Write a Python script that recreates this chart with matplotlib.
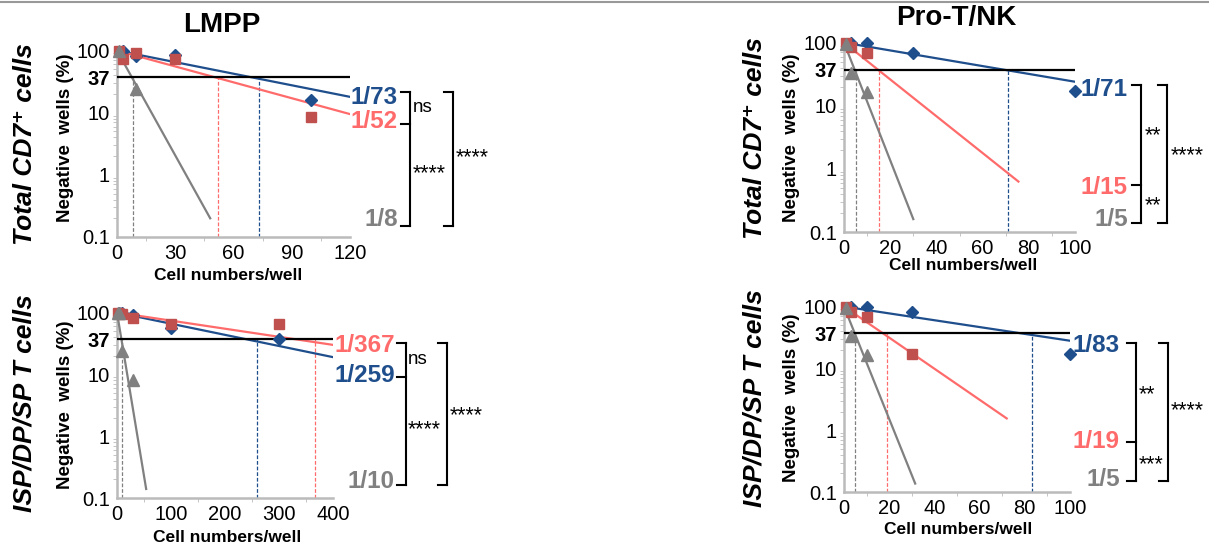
import numpy as np
import matplotlib
matplotlib.use("Agg")
import matplotlib.pyplot as plt
from matplotlib.lines import Line2D
from matplotlib.ticker import FixedLocator, LogLocator, NullFormatter

plt.rcParams['font.family'] = ['Liberation Sans', 'DejaVu Sans']

BLUE = '#1F4E8C'
RED_LINE = '#FF6B6B'
RED_MARK = '#C0504D'
GRAY = '#808080'
AXIS_GRAY = '#BBBBBB'

# ---- data: LMPP, total CD7+ ----
lmpp_cd7_blue_x = [3, 10, 30, 100]
lmpp_cd7_blue_y = [100, 82, 85, 16]
lmpp_cd7_red_x = [1, 3, 10, 30, 100]
lmpp_cd7_red_y = [100, 73, 92, 74, 8.5]
lmpp_cd7_gray_x = [1, 10]
lmpp_cd7_gray_y = [100, 24]
lmpp_cd7_fit_end = [(120, 18), (120, 9.5), (48, 0.2)]   # blue, red, gray
lmpp_cd7_freq = [73, 52, 8]

# ---- data: LMPP, ISP/DP/SP T ----
lmpp_t_blue_x = [3, 10, 30, 100, 300]
lmpp_t_blue_y = [100, 100, 92, 57, 38]
lmpp_t_red_x = [1, 10, 30, 100, 300]
lmpp_t_red_y = [100, 95, 82, 66, 66]
lmpp_t_gray_x = [1, 3, 10, 30]
lmpp_t_gray_y = [100, 100, 24, 8]
lmpp_t_fit_end = [(400, 19), (400, 30), (54, 0.14)]
lmpp_t_freq = [259, 367, 10]

# ---- data: Pro-T/NK, total CD7+ ----
pro_cd7_blue_x = [3, 10, 30, 100]
pro_cd7_blue_y = [100, 100, 68, 17]
pro_cd7_red_x = [1, 3, 10]
pro_cd7_red_y = [100, 85, 69]
pro_cd7_gray_x = [1, 3, 10]
pro_cd7_gray_y = [95, 33, 16.5]
pro_cd7_fit_end = [(100, 24), (75.5, 0.63), (30, 0.16)]
pro_cd7_freq = [71, 15, 5]

# ---- data: Pro-T/NK, ISP/DP/SP T ----
pro_t_blue_x = [3, 10, 30, 100]
pro_t_blue_y = [100, 100, 83, 17]
pro_t_red_x = [1, 3, 10, 30]
pro_t_red_y = [100, 83, 69, 17]
pro_t_gray_x = [1, 3, 10]
pro_t_gray_y = [94, 33, 16.5]
pro_t_fit_end = [(100, 28), (72, 1.55), (31.5, 0.137)]
pro_t_freq = [83, 19, 5]

y_ticks = [0.1, 1, 10, 37, 100]
y_tick_labels = ['0.1', '1', '10', '37', '100']

W, H = 1209, 545
fig = plt.figure(figsize=(W / 100, H / 100), dpi=100)


def fx(px):
    return px / W


def fy(py):
    return 1 - py / H


def make_axes(left, right, top, bottom):
    return fig.add_axes([fx(left), fy(bottom), fx(right) - fx(left), (bottom - top) / H])


def draw_panel(ax, bx, by, rx, ry, gx, gy, fit_end, freq, xmax, xticks, xminor):
    ax.set_yscale('log')
    ax.set_ylim(0.1, 110)
    ax.set_xlim(0, xmax)
    colors = [BLUE, RED_LINE, GRAY]
    # fitted lines
    for (xe, ye), c in zip(fit_end, colors):
        ax.plot([0, xe], [100, ye], color=c, lw=1.6, zorder=3)
    # dashed lines down from 37%
    for f, c in zip(freq, colors):
        ax.plot([f, f], [0.1, 37], color=c, lw=0.9, ls=(0, (3, 1.5)), zorder=2)
    ax.axhline(37, color='black', lw=1.6, zorder=4)
    ax.plot(bx, by, ls='none', marker='D', ms=6.5, color=BLUE, zorder=5, clip_on=False)
    ax.plot(rx, ry, ls='none', marker='s', ms=6.5, color=RED_MARK, zorder=5, clip_on=False)
    ax.plot(gx, gy, ls='none', marker='^', ms=8, color=GRAY, zorder=5, clip_on=False)

    ax.yaxis.set_major_locator(FixedLocator(y_ticks))
    ax.set_yticklabels(y_tick_labels)
    for lab in ax.get_yticklabels():
        if lab.get_text() == '37':
            lab.set_fontweight('bold')
    ax.yaxis.set_minor_locator(LogLocator(base=10, subs=np.arange(2, 10)))
    ax.yaxis.set_minor_formatter(NullFormatter())
    ax.set_xticks(xticks)
    ax.set_xticks(xminor, minor=True)
    ax.tick_params(axis='both', which='major', labelsize=14.5, length=0, pad=5,
                   colors=AXIS_GRAY, labelcolor='black')
    ax.tick_params(axis='both', which='minor', length=3, color=AXIS_GRAY)
    for s in ['top', 'right']:
        ax.spines[s].set_visible(False)
    for s in ['left', 'bottom']:
        ax.spines[s].set_color(AXIS_GRAY)
        ax.spines[s].set_linewidth(1.8)


ax1 = make_axes(117, 350, 48, 237)
draw_panel(ax1, lmpp_cd7_blue_x, lmpp_cd7_blue_y, lmpp_cd7_red_x, lmpp_cd7_red_y,
           lmpp_cd7_gray_x, lmpp_cd7_gray_y, lmpp_cd7_fit_end, lmpp_cd7_freq,
           120, [0, 30, 60, 90, 120], [15, 45, 75, 105])

ax3 = make_axes(117, 333, 310, 498)
draw_panel(ax3, lmpp_t_blue_x, lmpp_t_blue_y, lmpp_t_red_x, lmpp_t_red_y,
           lmpp_t_gray_x, lmpp_t_gray_y, lmpp_t_fit_end, lmpp_t_freq,
           400, [0, 100, 200, 300, 400], [50, 150, 250, 350])

ax2 = make_axes(844, 1075, 40, 232)
draw_panel(ax2, pro_cd7_blue_x, pro_cd7_blue_y, pro_cd7_red_x, pro_cd7_red_y,
           pro_cd7_gray_x, pro_cd7_gray_y, pro_cd7_fit_end, pro_cd7_freq,
           100, [0, 20, 40, 60, 80, 100], [10, 30, 50, 70, 90])

ax4 = make_axes(844, 1070, 304, 492)
draw_panel(ax4, pro_t_blue_x, pro_t_blue_y, pro_t_red_x, pro_t_red_y,
           pro_t_gray_x, pro_t_gray_y, pro_t_fit_end, pro_t_freq,
           100, [0, 20, 40, 60, 80, 100], [10, 30, 50, 70, 90])

# titles and labels
fig.text(fx(222), fy(25), 'LMPP', fontsize=20, fontweight='bold', ha='center', va='center')
fig.text(fx(956), fy(18), 'Pro-T/NK', fontsize=20, fontweight='bold', ha='center', va='center')

row_labels = [(25, 144, 'Total CD7\u207a cells'), (25, 403, 'ISP/DP/SP T cells'),
              (755, 138, 'Total CD7\u207a cells'), (755, 398, 'ISP/DP/SP T cells')]
for x, y, t in row_labels:
    fig.text(fx(x), fy(y), t, fontsize=19, fontweight='bold', style='italic',
             rotation=90, ha='center', va='center')

for x, y in [(66, 138), (66, 405), (791, 138), (791, 398)]:
    fig.text(fx(x), fy(y), 'Negative  wells (%)', fontsize=13.5, fontweight='bold',
             rotation=90, ha='center', va='center')

for x, y in [(228, 276), (227, 538), (963, 265), (958, 529)]:
    fig.text(fx(x), fy(y), 'Cell numbers/well', fontsize=12.5, fontweight='bold',
             ha='center', va='center')

# frequency labels
freq_labels = [
    (398, 97, '1/73', BLUE), (398, 121, '1/52', RED_LINE), (398, 219, '1/8', GRAY),
    (395, 346, '1/367', RED_LINE), (395, 375, '1/259', BLUE), (395, 482, '1/10', GRAY),
    (1128, 89, '1/71', BLUE), (1128, 188, '1/15', RED_LINE), (1128, 220, '1/5', GRAY),
    (1120, 345, '1/83', BLUE), (1120, 442, '1/19', RED_LINE), (1120, 480, '1/5', GRAY),
]
for x, y, t, c in freq_labels:
    fig.text(fx(x), fy(y), t, fontsize=17.5, fontweight='bold', color=c, ha='right', va='center')


def bracket(x, ys, tick=9):
    fig.add_artist(Line2D([fx(x), fx(x)], [fy(ys[0]), fy(ys[-1])], color='black', lw=1.5,
                          transform=fig.transFigure))
    for y in ys:
        fig.add_artist(Line2D([fx(x - tick), fx(x)], [fy(y), fy(y)], color='black', lw=1.5,
                              transform=fig.transFigure))


bracket(410, [92, 124, 226])
bracket(453, [92, 226])
bracket(406, [343, 377, 485])
bracket(447, [343, 485])
bracket(1141, [85, 185, 223])
bracket(1167, [85, 223])
bracket(1136, [343, 442, 481])
bracket(1168, [343, 481])

stars = [(413, 108, 'ns'), (413, 174, '****'), (456, 158, '****'),
         (408, 360, 'ns'), (408, 430, '****'), (450, 416, '****'),
         (1145, 136, '**'), (1145, 206, '**'), (1171, 156, '****'),
         (1139, 395, '**'), (1139, 465, '***'), (1171, 411, '****')]
for x, y, t in stars:
    fs = 13.5 if t == 'ns' else 15.5
    fig.text(fx(x), fy(y), t, fontsize=fs, ha='left', va='center')

# thin gray rule at the top
fig.add_artist(Line2D([0, 1], [fy(2), fy(2)], color='#999999', lw=1.5, transform=fig.transFigure))

fig.savefig('out.png', dpi=100)
